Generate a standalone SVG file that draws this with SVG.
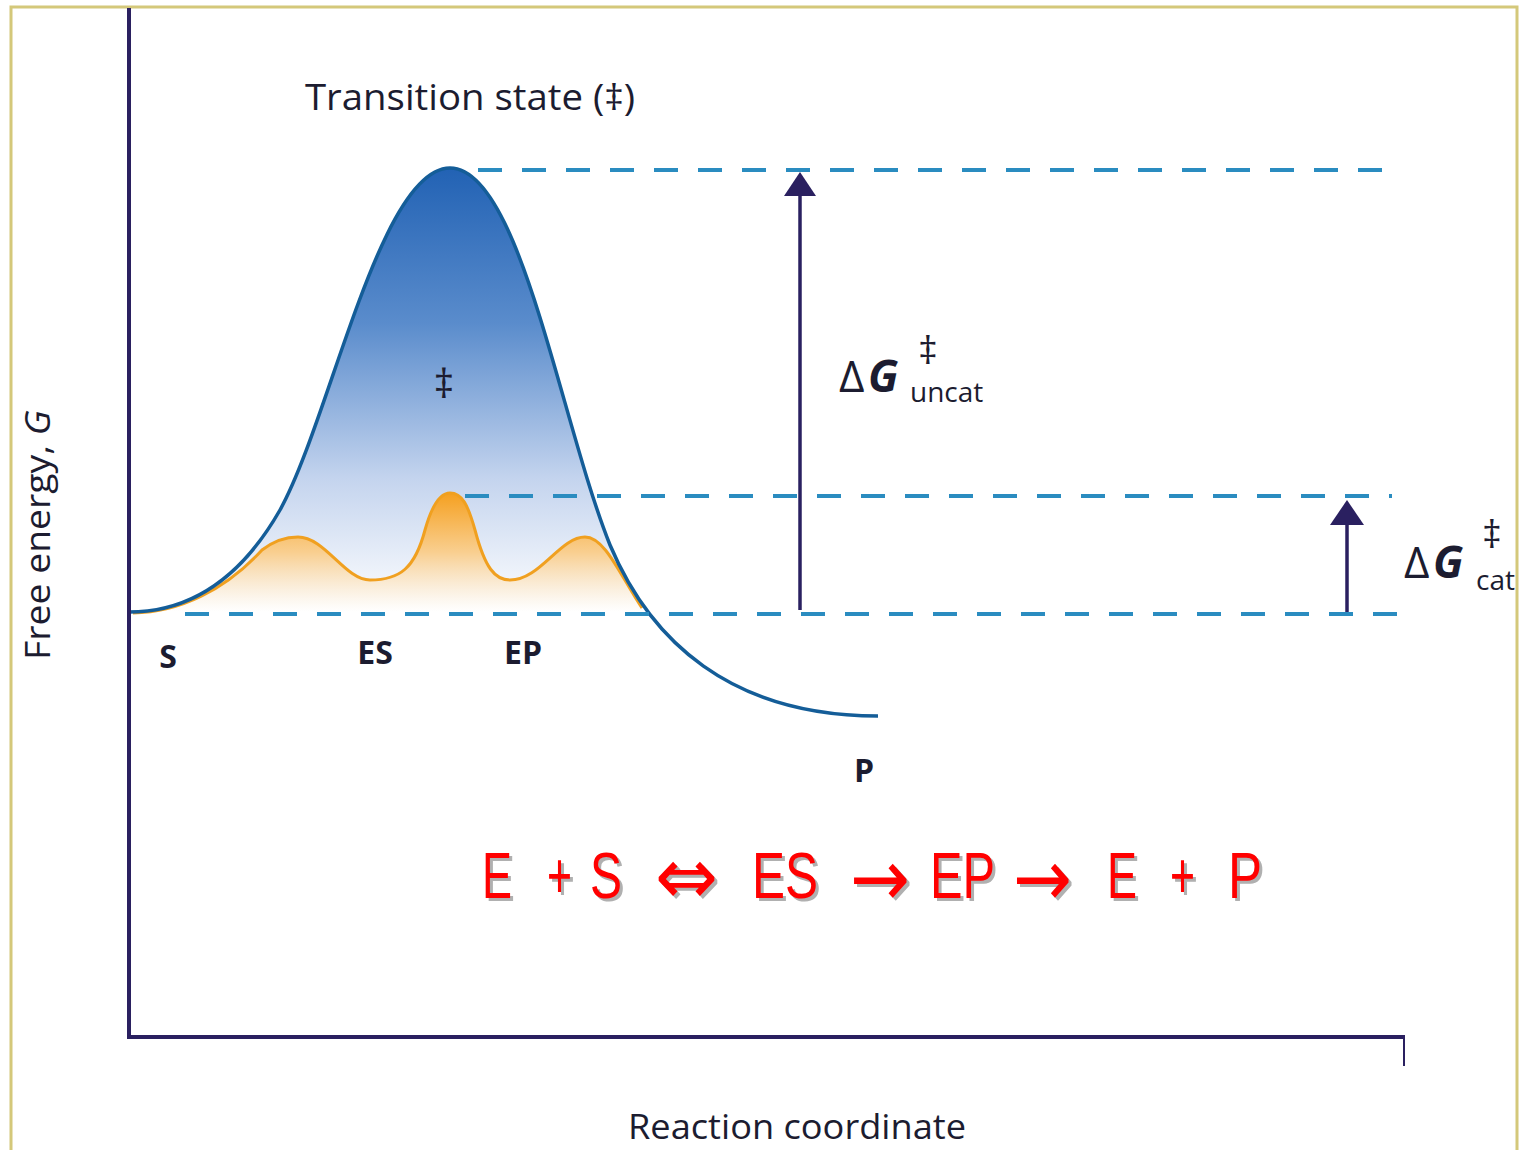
<svg xmlns="http://www.w3.org/2000/svg" width="1523" height="1150" viewBox="0 0 1523 1150">
<defs>
<linearGradient id="gBlue" x1="0" y1="168" x2="0" y2="612" gradientUnits="userSpaceOnUse">
<stop offset="0" stop-color="#2262b4"/>
<stop offset="0.35" stop-color="#5a8ccc"/>
<stop offset="0.7" stop-color="#c4d4ee"/>
<stop offset="1" stop-color="#ffffff"/>
</linearGradient>
<linearGradient id="gOrange" x1="0" y1="493" x2="0" y2="612" gradientUnits="userSpaceOnUse">
<stop offset="0" stop-color="#f5a020"/>
<stop offset="0.5" stop-color="#f9cf90"/>
<stop offset="1" stop-color="#ffffff" stop-opacity="0.6"/>
</linearGradient>
</defs>
<style>
.lbl{font-family:"Open Sans","Liberation Sans",sans-serif;fill:#1c1c30}
.bold{font-weight:bold}
.dash{stroke:#2a8cc0;stroke-width:4;stroke-dasharray:24 20;fill:none}
.axis{stroke:#2a2060;stroke-width:4;fill:none}
.arr{stroke:#2a2060;stroke-width:3.5;fill:none}
.head{fill:#2a2060}
.eq{font-family:"Liberation Sans","DejaVu Sans",sans-serif;font-size:64px;fill:#ff0000}
.eqs{font-family:"Liberation Sans","DejaVu Sans",sans-serif;font-size:64px;fill:#b0b0b0}
.ar{font-family:"DejaVu Sans",sans-serif;font-size:80px}
</style>
<rect x="0" y="0" width="1523" height="1150" fill="#ffffff"/>
<path d="M11,1150 V7 H1517 V1150" fill="none" stroke="#d4c87a" stroke-width="3"/>

<g id="curves">
<path d="M129,612 C190,612 240,580 280,510 C330,420 380,168 450,168 C520,168 560,420 610,545 C630,590 640,605 650,614 L129,614 Z" fill="url(#gBlue)"/>
<path d="M133,613 C180,612 225,590 262,550 C275,540 288,537 298,537 C325,537 345,580 370,580 C400,580 415,568 425,530 C432,505 440,493 450,493 C462,493 468,505 475,530 C485,568 495,580 510,580 C540,580 560,537 585,537 C605,537 620,575 642,608 L642,614 L133,614 Z" fill="url(#gOrange)"/>
<path d="M133,613 C180,612 225,590 262,550 C275,540 288,537 298,537 C325,537 345,580 370,580 C400,580 415,568 425,530 C432,505 440,493 450,493 C462,493 468,505 475,530 C485,568 495,580 510,580 C540,580 560,537 585,537 C605,537 620,575 642,608" fill="none" stroke="#f0a020" stroke-width="3"/>
<path d="M129,612 C190,612 240,580 280,510 C330,420 380,168 450,168 C520,168 560,420 610,545 C650,640 730,716 878,716" fill="none" stroke="#145d98" stroke-width="3.5"/>
</g>

<g id="connectors">
<line class="dash" x1="478" y1="170" x2="1402" y2="170"/>
<line class="dash" x1="465" y1="496" x2="1392" y2="496"/>
<line class="dash" x1="185" y1="614" x2="1414" y2="614"/>
<line class="arr" x1="800" y1="610" x2="800" y2="190"/>
<polygon class="head" points="800,172 784,196 816,196"/>
<line class="arr" x1="1347" y1="612" x2="1347" y2="518"/>
<polygon class="head" points="1347,500 1330,525 1364,525"/>
</g>

<g id="axes">
<line class="axis" x1="129" y1="8" x2="129" y2="1037"/>
<line class="axis" x1="127" y1="1037" x2="1405" y2="1037"/>
<line x1="1404" y1="1037" x2="1404" y2="1066" stroke="#2a2060" stroke-width="2"/>
</g>

<g id="labels">
<text class="lbl" x="305" y="110" font-size="36" textLength="330" lengthAdjust="spacingAndGlyphs">Transition state (‡)</text>
<text class="lbl" x="444" y="398" font-size="40" text-anchor="middle">‡</text>
<text class="lbl bold" x="168" y="668" font-size="32" text-anchor="middle">S</text>
<text class="lbl bold" x="375" y="664" font-size="32" text-anchor="middle">ES</text>
<text class="lbl bold" x="523" y="664" font-size="32" text-anchor="middle">EP</text>
<text class="lbl bold" x="864" y="782" font-size="32" text-anchor="middle">P</text>
<text class="lbl" transform="translate(50,660) rotate(-90)" font-size="34" textLength="250" lengthAdjust="spacingAndGlyphs">Free energy, <tspan font-style="italic">G</tspan></text>
<text class="lbl" x="628" y="1139" font-size="34" textLength="338" lengthAdjust="spacingAndGlyphs">Reaction coordinate</text>
</g>

<g id="dg-uncat">
<text class="lbl" x="839" y="392" font-size="44" font-family="Liberation Serif,serif">Δ</text>
<text class="lbl bold" x="868" y="392" font-size="44" font-style="italic" font-family="Liberation Sans,sans-serif">G</text>
<text class="lbl" x="928" y="364" font-size="38" text-anchor="middle">‡</text>
<text class="lbl" x="910" y="402" font-size="28">uncat</text>
</g>

<g id="dg-cat">
<text class="lbl" x="1404" y="578" font-size="44" font-family="Liberation Serif,serif">Δ</text>
<text class="lbl bold" x="1433" y="578" font-size="44" font-style="italic" font-family="Liberation Sans,sans-serif">G</text>
<text class="lbl" x="1492" y="548" font-size="38" text-anchor="middle">‡</text>
<text class="lbl" x="1476" y="590" font-size="28">cat</text>
</g>

<g id="equation">
<g transform="translate(3,3)" fill="#b0b0b0">
<text class="eqs" x="482" y="898" textLength="30" lengthAdjust="spacingAndGlyphs">E</text>
<text class="eqs" x="547" y="898" textLength="25" lengthAdjust="spacingAndGlyphs">+</text>
<text class="eqs" x="590" y="898" textLength="32" lengthAdjust="spacingAndGlyphs">S</text>
<text class="eqs ar" x="655" y="904" textLength="63" lengthAdjust="spacingAndGlyphs">⇔</text>
<text class="eqs" x="752" y="898" textLength="66" lengthAdjust="spacingAndGlyphs">ES</text>
<text class="eqs ar" x="850" y="906" textLength="60" lengthAdjust="spacingAndGlyphs">→</text>
<text class="eqs" x="930" y="898" textLength="65" lengthAdjust="spacingAndGlyphs">EP</text>
<text class="eqs ar" x="1013" y="906" textLength="59" lengthAdjust="spacingAndGlyphs">→</text>
<text class="eqs" x="1107" y="898" textLength="30" lengthAdjust="spacingAndGlyphs">E</text>
<text class="eqs" x="1170" y="898" textLength="25" lengthAdjust="spacingAndGlyphs">+</text>
<text class="eqs" x="1228" y="898" textLength="34" lengthAdjust="spacingAndGlyphs">P</text>
</g>
<text class="eq" x="482" y="898" textLength="30" lengthAdjust="spacingAndGlyphs">E</text>
<text class="eq" x="547" y="898" textLength="25" lengthAdjust="spacingAndGlyphs">+</text>
<text class="eq" x="590" y="898" textLength="32" lengthAdjust="spacingAndGlyphs">S</text>
<text class="eq ar" x="655" y="904" textLength="63" lengthAdjust="spacingAndGlyphs">⇔</text>
<text class="eq" x="752" y="898" textLength="66" lengthAdjust="spacingAndGlyphs">ES</text>
<text class="eq ar" x="850" y="906" textLength="60" lengthAdjust="spacingAndGlyphs">→</text>
<text class="eq" x="930" y="898" textLength="65" lengthAdjust="spacingAndGlyphs">EP</text>
<text class="eq ar" x="1013" y="906" textLength="59" lengthAdjust="spacingAndGlyphs">→</text>
<text class="eq" x="1107" y="898" textLength="30" lengthAdjust="spacingAndGlyphs">E</text>
<text class="eq" x="1170" y="898" textLength="25" lengthAdjust="spacingAndGlyphs">+</text>
<text class="eq" x="1228" y="898" textLength="34" lengthAdjust="spacingAndGlyphs">P</text>
</g>
</svg>
